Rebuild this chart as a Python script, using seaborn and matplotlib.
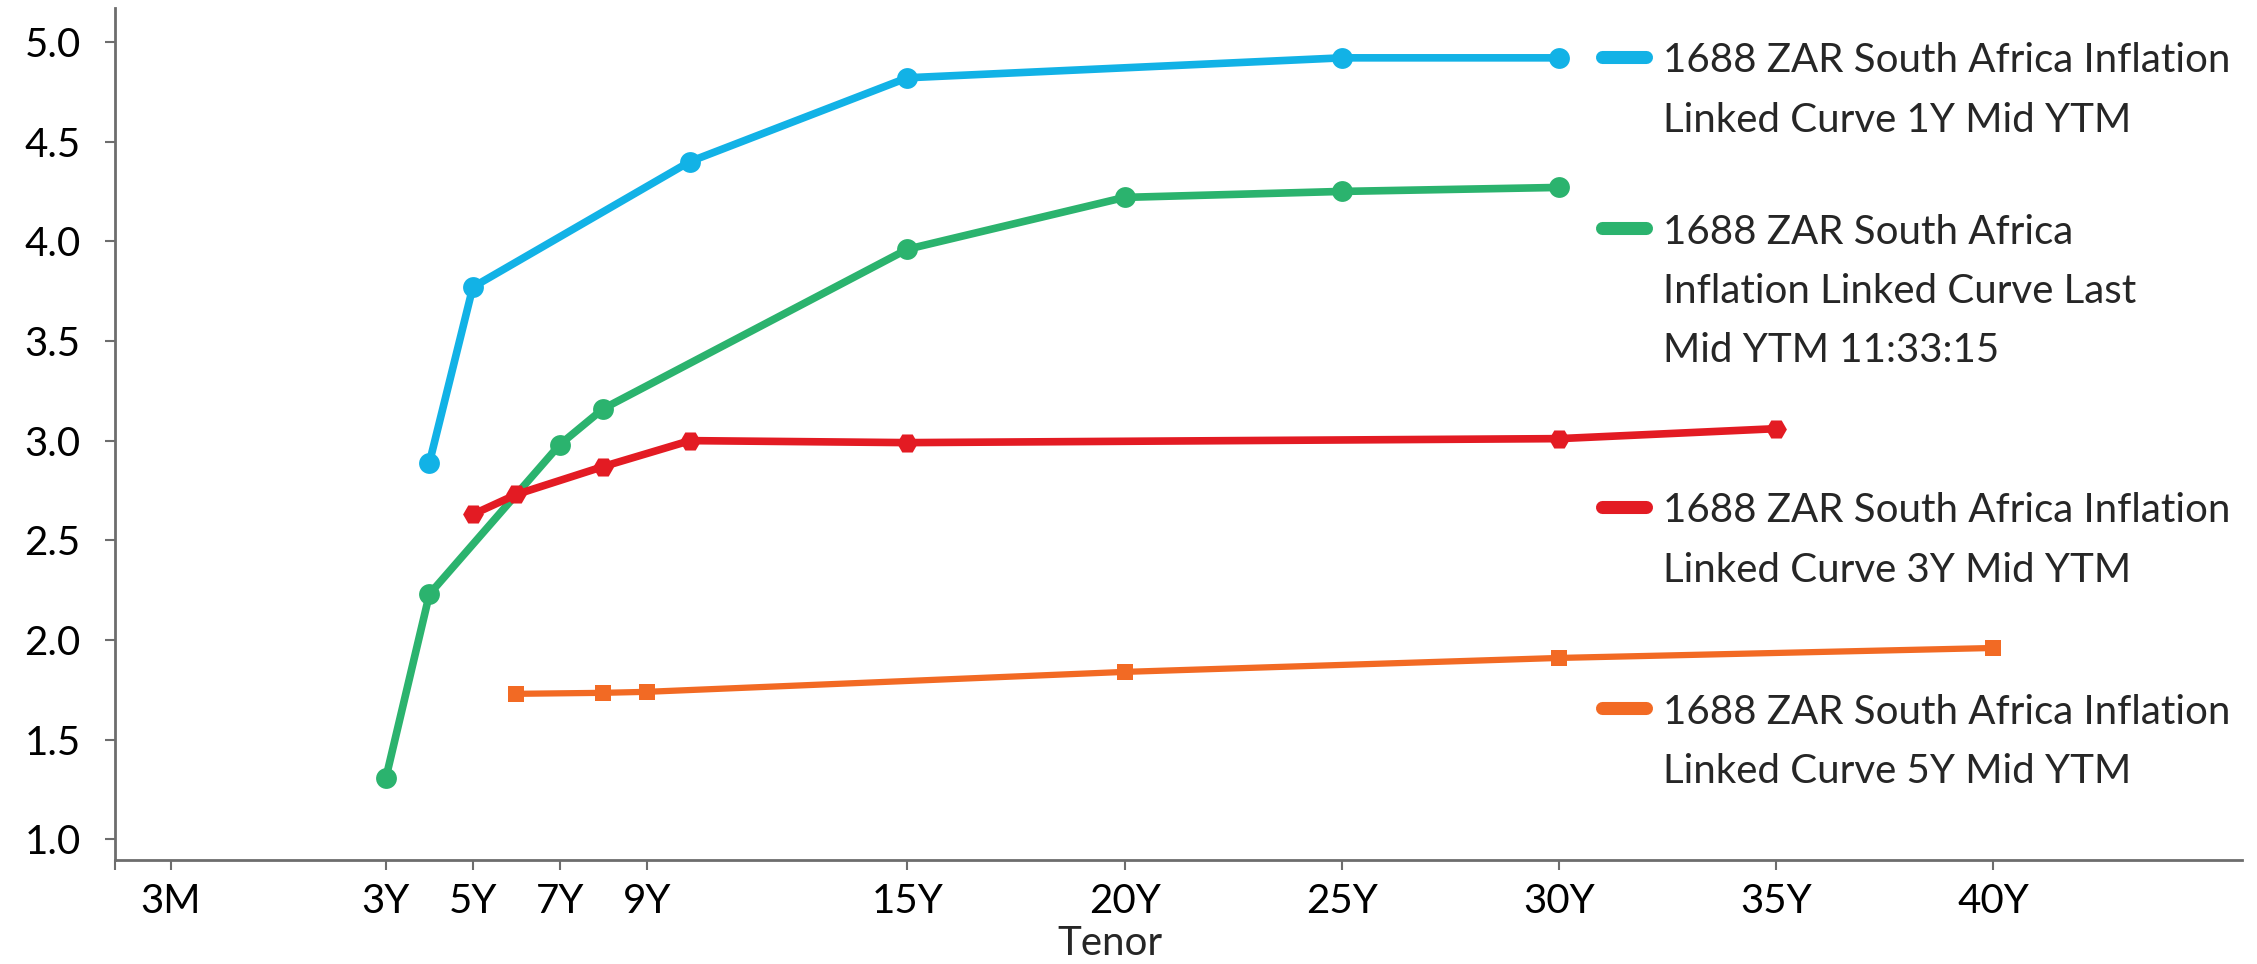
import numpy as np
import pandas as pd
import matplotlib
matplotlib.use("Agg")
import matplotlib.pyplot as plt
from matplotlib.lines import Line2D
import seaborn as sns

## Data (tenor in years, mid YTM in %)
curve_names = [
    "1688 ZAR South Africa Inflation\nLinked Curve 1Y Mid YTM",
    "1688 ZAR South Africa\nInflation Linked Curve Last\nMid YTM 11:33:15",
    "1688 ZAR South Africa Inflation\nLinked Curve 3Y Mid YTM",
    "1688 ZAR South Africa Inflation\nLinked Curve 5Y Mid YTM",
]

tenor_1y = [4, 5, 10, 15, 25, 30]
ytm_1y = [2.89, 3.77, 4.40, 4.82, 4.92, 4.92]

tenor_last = [3, 4, 7, 8, 15, 20, 25, 30]
ytm_last = [1.31, 2.23, 2.98, 3.16, 3.96, 4.22, 4.25, 4.27]

tenor_3y = [5, 6, 8, 10, 15, 30, 35]
ytm_3y = [2.63, 2.73, 2.87, 3.00, 2.99, 3.01, 3.06]

tenor_5y = [6, 8, 9, 20, 30, 40]
ytm_5y = [1.73, 1.735, 1.74, 1.84, 1.91, 1.96]

# x ticks (3M sits where the source chart draws it)
tick_pos = [-1.955, 3, 5, 7, 9, 15, 20, 25, 30, 35, 40]
tick_labels = ["3M", "3Y", "5Y", "7Y", "9Y", "15Y", "20Y", "25Y", "30Y", "35Y", "40Y"]
y_ticks = [1.0, 1.5, 2.0, 2.5, 3.0, 3.5, 4.0, 4.5, 5.0]

# styling
colors = ["#12b2e6", "#2bb36e", "#e31b23", "#f26a24"]
markers = ["o", "o", "H", "s"]
marker_sizes = [15, 15, 15, 12]
line_widths = [5.5, 5.5, 5.5, 4.5]

## Long-form table for seaborn
df = pd.concat([
    pd.DataFrame({"tenor": t, "ytm": v, "curve": n})
    for t, v, n in zip([tenor_1y, tenor_last, tenor_3y, tenor_5y],
                       [ytm_1y, ytm_last, ytm_3y, ytm_5y],
                       curve_names)
], ignore_index=True)

sns.set_style("ticks")
plt.rcParams["font.family"] = ["Lato", "DejaVu Sans"]

W, H = 2257, 964
fig = plt.figure(figsize=(W / 100, H / 100), dpi=100)
ax = fig.add_axes([114.7 / W, (H - 860.3) / H, (2242 - 114.7) / W, (860.3 - 8) / H])

for i, name in enumerate(curve_names):
    sub = df[df["curve"] == name]
    sns.lineplot(
        data=sub, x="tenor", y="ytm", ax=ax,
        color=colors[i], marker=markers[i], markersize=marker_sizes[i],
        markeredgewidth=0, linewidth=line_widths[i], legend=False,
    )

ax.set_xlim(-3.244, 45.72)
ax.set_ylim(0.895, 5.17)

# extra unlabeled tick at the left edge, like the source axis crossing
ax.set_xticks([-3.244] + tick_pos)
ax.set_xticklabels([""] + tick_labels)
ax.set_yticks(y_ticks)
ax.set_yticklabels([f"{v:.1f}" for v in y_ticks])

axis_grey = "#6d6d6d"
for side in ["top", "right"]:
    ax.spines[side].set_visible(False)
for side in ["left", "bottom"]:
    ax.spines[side].set_color(axis_grey)
    ax.spines[side].set_linewidth(2)
ax.tick_params(axis="both", direction="out", length=7.5, width=1.5,
               color=axis_grey, labelsize=29, labelcolor="black")
ax.tick_params(axis="x", pad=9)
ax.tick_params(axis="y", pad=17)

ax.set_xlabel("Tenor", fontsize=29)
ax.set_ylabel("")
ax.xaxis.set_label_coords(0.468, -0.076)

## Legend on the right, drawn by hand so each handle sits on its first line
handle_y = [57, 228, 507, 708]
for i, name in enumerate(curve_names):
    yf = 1 - handle_y[i] / H
    fig.add_artist(Line2D([1601.5 / W, 1645.5 / W], [yf, yf], color=colors[i],
                          linewidth=9.4, solid_capstyle="round"))
    fig.text(1663 / W, 1 - (handle_y[i] - 14.5) / H, name, fontsize=29,
             va="top", ha="left", linespacing=1.75)

fig.savefig("out.png", dpi=100)
